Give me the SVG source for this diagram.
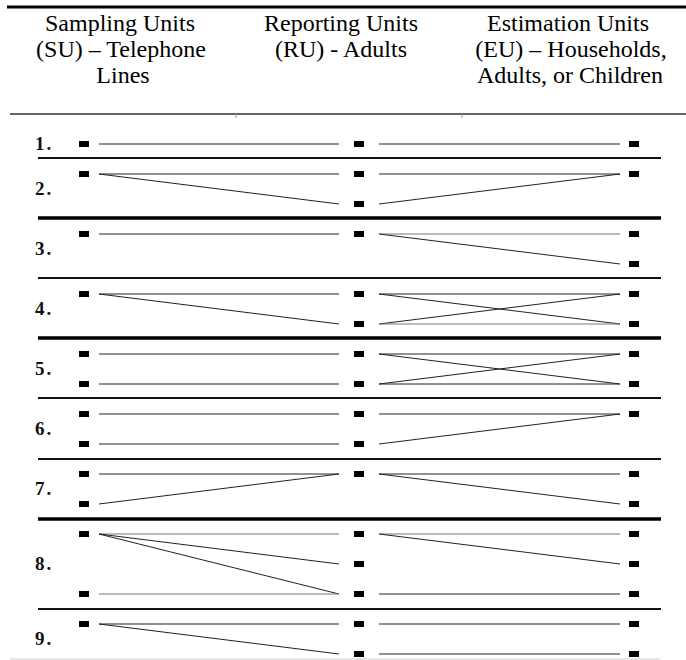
<svg xmlns="http://www.w3.org/2000/svg" width="686" height="660" viewBox="0 0 686 660">
<style>
.hdr{font-size:24px;fill:#000;text-anchor:middle}
.num{font-size:19px;font-weight:bold;fill:#111;letter-spacing:2px}
.sq{fill:#000}
.ln{stroke:#222;stroke-width:1;fill:none}
.lg{stroke:#777;stroke-width:1;fill:none}
.sep{stroke:#111;stroke-width:2}
.sepb{stroke:#000;stroke-width:3.5}
</style>
<g id="header" font-family="Liberation Serif, DejaVu Serif, serif">
  <line x1="7" y1="7" x2="686" y2="7" stroke="#000" stroke-width="3"/>
  <line x1="10" y1="114" x2="686" y2="114" stroke="#333" stroke-width="1.5"/>
  <line x1="236" y1="114" x2="236" y2="118" stroke="#999" stroke-width="1"/>
  <line x1="462" y1="114" x2="462" y2="118" stroke="#999" stroke-width="1"/>
  <text class="hdr" font-family="Liberation Serif, DejaVu Serif, serif" x="120" y="31">Sampling Units</text>
  <text class="hdr" font-family="Liberation Serif, DejaVu Serif, serif" x="121" y="57">(SU) – Telephone</text>
  <text class="hdr" font-family="Liberation Serif, DejaVu Serif, serif" x="123" y="83">Lines</text>
  <text class="hdr" font-family="Liberation Serif, DejaVu Serif, serif" x="341" y="31">Reporting Units</text>
  <text class="hdr" font-family="Liberation Serif, DejaVu Serif, serif" x="341" y="57">(RU) - Adults</text>
  <text class="hdr" font-family="Liberation Serif, DejaVu Serif, serif" x="568" y="31">Estimation Units</text>
  <text class="hdr" font-family="Liberation Serif, DejaVu Serif, serif" x="571" y="57">(EU) – Households,</text>
  <text class="hdr" font-family="Liberation Serif, DejaVu Serif, serif" x="570" y="83">Adults, or Children</text>
</g>
<g id="separators">
  <line class="sep" x1="38" y1="158" x2="661" y2="158"/>
  <line class="sepb" x1="38" y1="218" x2="661" y2="218"/>
  <line class="sep" x1="38" y1="278" x2="661" y2="278"/>
  <line class="sepb" x1="38" y1="338" x2="661" y2="338"/>
  <line class="sep" x1="38" y1="398" x2="661" y2="398"/>
  <line class="sep" x1="38" y1="459" x2="661" y2="459"/>
  <line class="sepb" x1="38" y1="519" x2="661" y2="519"/>
  <line class="sep" x1="38" y1="609" x2="661" y2="609"/>
  <line x1="10" y1="659" x2="660" y2="659" stroke="#ccc" stroke-width="1"/>
</g>
<g id="labels" font-family="Liberation Serif, DejaVu Serif, serif">
  <text class="num" font-family="Liberation Serif, DejaVu Serif, serif" x="35" y="150">1.</text>
  <text class="num" font-family="Liberation Serif, DejaVu Serif, serif" x="35" y="195">2.</text>
  <text class="num" font-family="Liberation Serif, DejaVu Serif, serif" x="35" y="255">3.</text>
  <text class="num" font-family="Liberation Serif, DejaVu Serif, serif" x="35" y="315">4.</text>
  <text class="num" font-family="Liberation Serif, DejaVu Serif, serif" x="35" y="375">5.</text>
  <text class="num" font-family="Liberation Serif, DejaVu Serif, serif" x="35" y="435">6.</text>
  <text class="num" font-family="Liberation Serif, DejaVu Serif, serif" x="35" y="495">7.</text>
  <text class="num" font-family="Liberation Serif, DejaVu Serif, serif" x="35" y="570">8.</text>
  <text class="num" font-family="Liberation Serif, DejaVu Serif, serif" x="35" y="645">9.</text>
</g>
<g id="connectors">
  <line class="ln" x1="99" y1="144" x2="339" y2="144"/>
  <line class="ln" x1="379" y1="144" x2="620" y2="144"/>
  <line class="ln" x1="99" y1="174" x2="339" y2="174"/>
  <line class="ln" x1="99" y1="174" x2="339" y2="204"/>
  <line class="ln" x1="379" y1="174" x2="620" y2="174"/>
  <line class="ln" x1="379" y1="204" x2="620" y2="174"/>
  <line class="ln" x1="99" y1="234" x2="339" y2="234"/>
  <line class="lg" x1="379" y1="234" x2="620" y2="234"/>
  <line class="ln" x1="379" y1="234" x2="620" y2="264"/>
  <line class="ln" x1="99" y1="294" x2="339" y2="294"/>
  <line class="ln" x1="99" y1="294" x2="339" y2="324"/>
  <line class="ln" x1="379" y1="294" x2="620" y2="294"/>
  <line class="ln" x1="379" y1="294" x2="620" y2="324"/>
  <line class="ln" x1="379" y1="324" x2="620" y2="294"/>
  <line class="lg" x1="379" y1="324" x2="620" y2="324"/>
  <line class="ln" x1="99" y1="354" x2="339" y2="354"/>
  <line class="ln" x1="99" y1="384" x2="339" y2="384"/>
  <line class="ln" x1="379" y1="354" x2="620" y2="354"/>
  <line class="ln" x1="379" y1="354" x2="620" y2="384"/>
  <line class="ln" x1="379" y1="384" x2="620" y2="354"/>
  <line class="ln" x1="379" y1="384" x2="620" y2="384"/>
  <line class="ln" x1="99" y1="414" x2="339" y2="414"/>
  <line class="ln" x1="99" y1="444" x2="339" y2="444"/>
  <line class="ln" x1="379" y1="414" x2="620" y2="414"/>
  <line class="ln" x1="379" y1="444" x2="620" y2="414"/>
  <line class="ln" x1="99" y1="474" x2="339" y2="474"/>
  <line class="ln" x1="99" y1="504" x2="339" y2="474"/>
  <line class="ln" x1="379" y1="474" x2="620" y2="474"/>
  <line class="ln" x1="379" y1="474" x2="620" y2="504"/>
  <line class="lg" x1="99" y1="534" x2="339" y2="534"/>
  <line class="ln" x1="99" y1="534" x2="339" y2="564"/>
  <line class="ln" x1="99" y1="534" x2="339" y2="594"/>
  <line class="lg" x1="99" y1="594" x2="339" y2="594"/>
  <line class="lg" x1="379" y1="534" x2="620" y2="534"/>
  <line class="ln" x1="379" y1="534" x2="620" y2="564"/>
  <line class="ln" x1="379" y1="594" x2="620" y2="594"/>
  <line class="ln" x1="99" y1="624" x2="339" y2="624"/>
  <line class="ln" x1="99" y1="624" x2="339" y2="654"/>
  <line class="ln" x1="379" y1="624" x2="620" y2="624"/>
  <line class="ln" x1="379" y1="654" x2="620" y2="654"/>
</g>
<g id="nodes">
  <g id="r1-su1"><rect class="sq" x="79" y="141" width="10" height="6"/></g>
  <g id="r1-ru1"><rect class="sq" x="354" y="141" width="10" height="6"/></g>
  <g id="r1-eu1"><rect class="sq" x="629" y="141" width="10" height="6"/></g>
  <g id="r2-su1"><rect class="sq" x="79" y="171" width="10" height="6"/></g>
  <g id="r2-ru1"><rect class="sq" x="354" y="171" width="10" height="6"/></g>
  <g id="r2-ru2"><rect class="sq" x="354" y="201" width="10" height="6"/></g>
  <g id="r2-eu1"><rect class="sq" x="629" y="171" width="10" height="6"/></g>
  <g id="r3-su1"><rect class="sq" x="79" y="231" width="10" height="6"/></g>
  <g id="r3-ru1"><rect class="sq" x="354" y="231" width="10" height="6"/></g>
  <g id="r3-eu1"><rect class="sq" x="629" y="231" width="10" height="6"/></g>
  <g id="r3-eu2"><rect class="sq" x="629" y="261" width="10" height="6"/></g>
  <g id="r4-su1"><rect class="sq" x="79" y="291" width="10" height="6"/></g>
  <g id="r4-ru1"><rect class="sq" x="354" y="291" width="10" height="6"/></g>
  <g id="r4-ru2"><rect class="sq" x="354" y="321" width="10" height="6"/></g>
  <g id="r4-eu1"><rect class="sq" x="629" y="291" width="10" height="6"/></g>
  <g id="r4-eu2"><rect class="sq" x="629" y="321" width="10" height="6"/></g>
  <g id="r5-su1"><rect class="sq" x="79" y="351" width="10" height="6"/></g>
  <g id="r5-su2"><rect class="sq" x="79" y="381" width="10" height="6"/></g>
  <g id="r5-ru1"><rect class="sq" x="354" y="351" width="10" height="6"/></g>
  <g id="r5-ru2"><rect class="sq" x="354" y="381" width="10" height="6"/></g>
  <g id="r5-eu1"><rect class="sq" x="629" y="351" width="10" height="6"/></g>
  <g id="r5-eu2"><rect class="sq" x="629" y="381" width="10" height="6"/></g>
  <g id="r6-su1"><rect class="sq" x="79" y="411" width="10" height="6"/></g>
  <g id="r6-su2"><rect class="sq" x="79" y="441" width="10" height="6"/></g>
  <g id="r6-ru1"><rect class="sq" x="354" y="411" width="10" height="6"/></g>
  <g id="r6-ru2"><rect class="sq" x="354" y="441" width="10" height="6"/></g>
  <g id="r6-eu1"><rect class="sq" x="629" y="411" width="10" height="6"/></g>
  <g id="r7-su1"><rect class="sq" x="79" y="471" width="10" height="6"/></g>
  <g id="r7-su2"><rect class="sq" x="79" y="501" width="10" height="6"/></g>
  <g id="r7-ru1"><rect class="sq" x="354" y="471" width="10" height="6"/></g>
  <g id="r7-eu1"><rect class="sq" x="629" y="471" width="10" height="6"/></g>
  <g id="r7-eu2"><rect class="sq" x="629" y="501" width="10" height="6"/></g>
  <g id="r8-su1"><rect class="sq" x="79" y="531" width="10" height="6"/></g>
  <g id="r8-su2"><rect class="sq" x="79" y="591" width="10" height="6"/></g>
  <g id="r8-ru1"><rect class="sq" x="354" y="531" width="10" height="6"/></g>
  <g id="r8-ru2"><rect class="sq" x="354" y="561" width="10" height="6"/></g>
  <g id="r8-ru3"><rect class="sq" x="354" y="591" width="10" height="6"/></g>
  <g id="r8-eu1"><rect class="sq" x="629" y="531" width="10" height="6"/></g>
  <g id="r8-eu2"><rect class="sq" x="629" y="561" width="10" height="6"/></g>
  <g id="r8-eu3"><rect class="sq" x="629" y="591" width="10" height="6"/></g>
  <g id="r9-su1"><rect class="sq" x="79" y="621" width="10" height="6"/></g>
  <g id="r9-ru1"><rect class="sq" x="354" y="621" width="10" height="6"/></g>
  <g id="r9-ru2"><rect class="sq" x="354" y="651" width="10" height="6"/></g>
  <g id="r9-eu1"><rect class="sq" x="629" y="621" width="10" height="6"/></g>
  <g id="r9-eu2"><rect class="sq" x="629" y="651" width="10" height="6"/></g>
</g>
</svg>
